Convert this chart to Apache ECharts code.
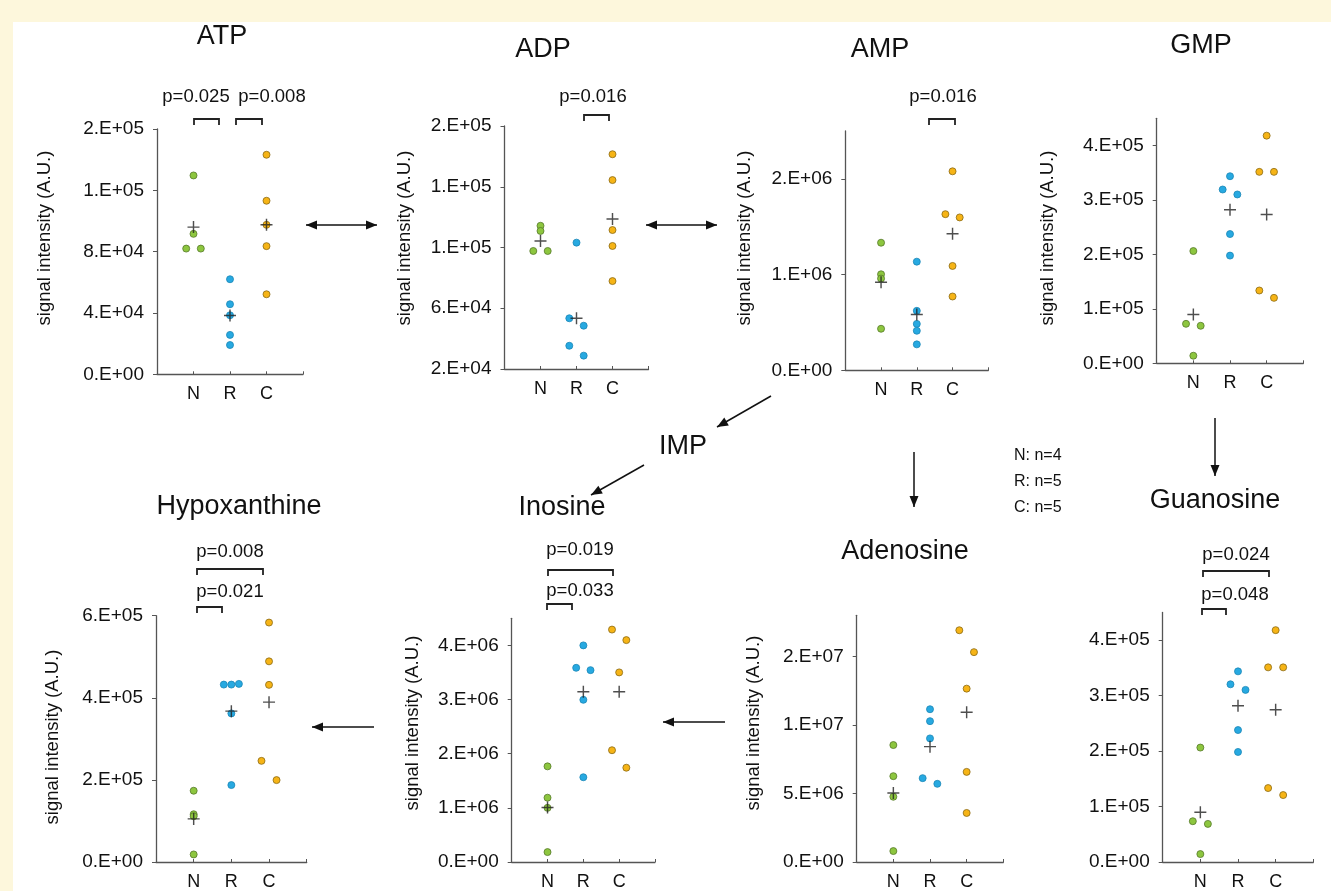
<!DOCTYPE html>
<html>
<head>
<meta charset="utf-8">
<script src="https://cdn.jsdelivr.net/npm/echarts@6/dist/echarts.min.js"></script>
<style>
  html, body { margin: 0; padding: 0; background: #fff; }
  #chart { width: 1331px; height: 891px; }
</style>
</head>
<body>
<div id="chart"></div>
<script>
// groups on the x axis
const groups = ['N', 'R', 'C'];
const groupX = [1, 2, 3];

// ATP
const atpN = [129700, 91600, 82000, 82000];
const atpR = [62000, 45700, 38500, 25700, 19100];
const atpC = [143200, 113200, 97500, 83600, 52200];
const atpMean = [96000, 38300, 97500];
const atpJitter = [[0, 0, -0.2, 0.2], [0, 0, 0, 0, 0], [0, 0, 0, 0, 0]];
const atpRange = [0, 160000];
const atpTicks = [0, 40000, 80000, 120000, 160000];
const atpTickLabels = ['0.E+00', '4.E+04', '8.E+04', '1.E+05', '2.E+05'];

// ADP
const adpN = [114300, 110900, 97700, 97700];
const adpR = [103200, 53400, 48500, 35300, 28800];
const adpC = [161400, 144400, 111500, 101000, 77900];
const adpMean = [104300, 53400, 118800];
const adpJitter = [[0, 0, -0.2, 0.2], [0, -0.2, 0.2, -0.2, 0.2], [0, 0, 0, 0, 0]];
const adpRange = [20000, 180000];
const adpTicks = [20000, 60000, 100000, 140000, 180000];
const adpTickLabels = ['2.E+04', '6.E+04', '1.E+05', '1.E+05', '2.E+05'];

// AMP
const ampN = [1333000, 1003000, 958000, 434000];
const ampR = [1135000, 621000, 485000, 413000, 271000];
const ampC = [2079000, 1631000, 1597000, 1090000, 771000];
const ampMean = [920000, 583000, 1427000];
const ampJitter = [[0, 0, 0, 0], [0, 0, 0, 0, 0], [0, -0.2, 0.2, 0, 0]];
const ampRange = [0, 2500000];
const ampTicks = [0, 1000000, 2000000];
const ampTickLabels = ['0.E+00', '1.E+06', '2.E+06'];

// GMP
const gmpN = [206200, 72500, 68900, 13900];
const gmpR = [343600, 319200, 310100, 237400, 197800];
const gmpC = [418100, 351600, 351600, 133700, 120200];
const gmpMean = [89700, 282000, 273400];
const gmpJitter = [[0, -0.2, 0.2, 0], [0, -0.2, 0.2, 0, 0], [0, -0.2, 0.2, -0.2, 0.2]];
const gmpRange = [0, 450000];
const gmpTicks = [0, 100000, 200000, 300000, 400000];
const gmpTickLabels = ['0.E+00', '1.E+05', '2.E+05', '3.E+05', '4.E+05'];

// Hypoxanthine
const hypN = [173600, 116300, 111700, 18400];
const hypR = [432200, 432200, 433900, 362000, 187400];
const hypC = [583300, 488800, 431500, 246400, 199500];
const hypMean = [105000, 367500, 389400];
const hypJitter = [[0, 0, 0, 0], [-0.2, 0, 0.2, 0, 0], [0, 0, 0, -0.2, 0.2]];
const hypRange = [0, 600000];
const hypTicks = [0, 200000, 400000, 600000];
const hypTickLabels = ['0.E+00', '2.E+05', '4.E+05', '6.E+05'];

// Inosine
const inoN = [1766000, 1187000, 1000000, 183000];
const inoR = [4000000, 3586000, 3543000, 2995000, 1565000];
const inoC = [4292000, 4097000, 3501000, 2064000, 1741000];
const inoMean = [1005000, 3142000, 3142000];
const inoJitter = [[0, 0, 0, 0], [0, -0.2, 0.2, 0, 0], [-0.2, 0.2, 0, -0.2, 0.2]];
const inoRange = [0, 4500000];
const inoTicks = [0, 1000000, 2000000, 3000000, 4000000];
const inoTickLabels = ['0.E+00', '1.E+06', '2.E+06', '3.E+06', '4.E+06'];

// Adenosine
const adoN = [8534000, 6263000, 4761000, 798000];
const adoR = [11147000, 10276000, 9020000, 6118000, 5704000];
const adoC = [16909000, 15312000, 12649000, 6575000, 3578000];
const adoMean = [5029000, 8418000, 10929000];
const adoJitter = [[0, 0, 0, 0], [0, 0, 0, -0.2, 0.2], [-0.2, 0.2, 0, 0, 0]];
const adoRange = [0, 18000000];
const adoTicks = [0, 5000000, 10000000, 15000000];
const adoTickLabels = ['0.E+00', '5.E+06', '1.E+07', '2.E+07'];

// Guanosine
const guoN = [206300, 73500, 68700, 14300];
const guoR = [343700, 320400, 310300, 237900, 198400];
const guoC = [418000, 350900, 350900, 133300, 120700];
const guoMean = [89700, 281600, 274400];
const guoJitter = [[0, -0.2, 0.2, 0], [0, -0.2, 0.2, 0, 0], [0, -0.2, 0.2, -0.2, 0.2]];
const guoRange = [0, 450000];
const guoTicks = [0, 100000, 200000, 300000, 400000];
const guoTickLabels = ['0.E+00', '1.E+05', '2.E+05', '3.E+05', '4.E+05'];

const panels = [
  { title: 'ATP', data: [atpN, atpR, atpC], mean: atpMean, jitter: atpJitter, range: atpRange, ticks: atpTicks, labels: atpTickLabels },
  { title: 'ADP', data: [adpN, adpR, adpC], mean: adpMean, jitter: adpJitter, range: adpRange, ticks: adpTicks, labels: adpTickLabels },
  { title: 'AMP', data: [ampN, ampR, ampC], mean: ampMean, jitter: ampJitter, range: ampRange, ticks: ampTicks, labels: ampTickLabels },
  { title: 'GMP', data: [gmpN, gmpR, gmpC], mean: gmpMean, jitter: gmpJitter, range: gmpRange, ticks: gmpTicks, labels: gmpTickLabels },
  { title: 'Hypoxanthine', data: [hypN, hypR, hypC], mean: hypMean, jitter: hypJitter, range: hypRange, ticks: hypTicks, labels: hypTickLabels },
  { title: 'Inosine', data: [inoN, inoR, inoC], mean: inoMean, jitter: inoJitter, range: inoRange, ticks: inoTicks, labels: inoTickLabels },
  { title: 'Adenosine', data: [adoN, adoR, adoC], mean: adoMean, jitter: adoJitter, range: adoRange, ticks: adoTicks, labels: adoTickLabels },
  { title: 'Guanosine', data: [guoN, guoR, guoC], mean: guoMean, jitter: guoJitter, range: guoRange, ticks: guoTicks, labels: guoTickLabels }
];

// grid box [left, top, width, height], title centre, y name centre (null = none)
const layout = [
  { grid: [157, 129, 146, 245.3], title: [222, 37], yName: [45, 238] },
  { grid: [504.5, 126, 144, 243], title: [543, 50], yName: [405, 238] },
  { grid: [845.3, 131, 143, 239.3], title: [880, 50], yName: [745, 238] },
  { grid: [1156.7, 118.3, 146.6, 245], title: [1201, 46], yName: [1048, 238] },
  { grid: [156, 615.7, 150.7, 247.6], title: [239, 507], yName: [53, 737] },
  { grid: [511.7, 618.3, 143.3, 245.7], title: [562, 508], yName: [413, 723] },
  { grid: [856.7, 615.3, 146.6, 248], title: [905, 552], yName: [754, 723] },
  { grid: [1162.7, 612.4, 150.6, 250.9], title: [1215, 501], yName: null }
];

// p values: [text, cx, cy]; brackets: [x1, x2, yTop, yEnd]
const pLabels = [
  ['p=0.025', 196, 97], ['p=0.008', 272, 97],
  ['p=0.016', 593, 97], ['p=0.016', 943, 97],
  ['p=0.008', 230, 552], ['p=0.021', 230, 592],
  ['p=0.019', 580, 550], ['p=0.033', 580, 591],
  ['p=0.024', 1236, 555], ['p=0.048', 1235, 595]
];
const brackets = [
  [194, 219, 119, 125], [236, 262, 119, 125],
  [584, 609, 115, 121], [929, 955, 119, 125],
  [197, 263, 569, 575], [197, 222, 607, 613],
  [548, 613, 570, 576], [547, 572, 604, 610],
  [1203, 1269, 571, 577], [1202, 1226, 609, 615]
];
// arrows: [x1, y1, x2, y2, double]
const arrows = [
  [306, 225, 377, 225, true],
  [646, 225, 717, 225, true],
  [771, 396, 717, 427, false],
  [644, 465, 591, 495, false],
  [914, 452, 914, 507, false],
  [725, 722, 663, 722, false],
  [374, 727, 312, 727, false],
  [1215, 418, 1215, 476, false]
];

const FONT = '"Liberation Sans", Arial, Helvetica, sans-serif';
const INK = '#111';
const AXIS = '#555';
const dotColors = ['#8dc63f', '#27a9e1', '#f6b416'];
const dotBorders = ['#56782a', '#1a86b6', '#8a6a14'];
const plus = 'path://M4.4,0H5.6V4.4H10V5.6H5.6V10H4.4V5.6H0V4.4H4.4Z';

const grids = [], xAxes = [], yAxes = [], series = [];

panels.forEach((p, i) => {
  const g = layout[i].grid;
  grids.push({ left: g[0], top: g[1], width: g[2], height: g[3] });
  xAxes.push({
    gridIndex: i, type: 'value', min: 0, max: 4,
    axisLine: { onZero: false, lineStyle: { color: AXIS, width: 1.3 } },
    axisTick: { customValues: [1, 2, 3, 4], inside: true, length: 3, lineStyle: { color: AXIS } },
    axisLabel: {
      customValues: groupX, margin: 11, fontSize: 18, color: INK, fontFamily: FONT,
      formatter: v => groups[Math.round(v) - 1]
    },
    splitLine: { show: false }
  });
  yAxes.push({
    gridIndex: i, type: 'value', min: p.range[0], max: p.range[1],
    axisLine: { show: true, onZero: false, lineStyle: { color: AXIS, width: 1.3 } },
    axisTick: { show: true, customValues: p.ticks, length: 4, lineStyle: { color: AXIS } },
    axisLabel: {
      customValues: p.ticks, margin: 13, fontSize: 19, color: INK, fontFamily: FONT,
      formatter: v => {
        const k = p.ticks.findIndex(t => Math.abs(t - v) <= Math.abs(t) * 1e-6 + 1e-9);
        return k < 0 ? '' : p.labels[k];
      }
    },
    splitLine: { show: false }
  });
  p.data.forEach((vals, k) => {
    series.push({
      type: 'scatter', name: groups[k], xAxisIndex: i, yAxisIndex: i,
      symbolSize: 7,
      itemStyle: { color: dotColors[k], borderColor: dotBorders[k], borderWidth: 0.8, opacity: 1 },
      data: vals.map((v, j) => [groupX[k] + p.jitter[k][j], v]),
      z: 3
    });
  });
  series.push({
    type: 'scatter', name: 'mean', xAxisIndex: i, yAxisIndex: i,
    symbol: plus, symbolSize: 12,
    itemStyle: { color: '#222' },
    data: p.mean.map((v, k) => [groupX[k], v]),
    z: 5
  });
});

function text(str, x, y, size, align, extra) {
  return Object.assign({
    type: 'text', x: x, y: y,
    style: {
      text: str, fill: INK, font: size + 'px ' + FONT,
      align: align, verticalAlign: 'middle',
      textAlign: align, textVerticalAlign: 'middle'
    }
  }, extra || {});
}

function head(x1, y1, x2, y2) {
  const a = Math.atan2(y2 - y1, x2 - x1), L = 11, W = 4.5;
  const bx = x2 - L * Math.cos(a), by = y2 - L * Math.sin(a);
  return {
    type: 'polygon',
    shape: { points: [[x2, y2], [bx + W * Math.sin(a), by - W * Math.cos(a)], [bx - W * Math.sin(a), by + W * Math.cos(a)]] },
    style: { fill: '#111' }
  };
}

const elements = [
  { type: 'rect', shape: { x: 0, y: 0, width: 1331, height: 22 }, style: { fill: '#fdf7dc' } },
  { type: 'rect', shape: { x: 0, y: 0, width: 13, height: 891 }, style: { fill: '#fdf7dc' } }
];

panels.forEach((p, i) => {
  const L = layout[i];
  elements.push(text(p.title, L.title[0], L.title[1], 27, 'center'));
  if (L.yName) {
    elements.push(text('signal intensity (A.U.)', L.yName[0], L.yName[1], 18.5, 'center', { rotation: Math.PI / 2 }));
  }
});

pLabels.forEach(d => elements.push(text(d[0], d[1], d[2], 18.5, 'center')));

brackets.forEach(b => elements.push({
  type: 'polyline',
  shape: { points: [[b[0], b[3]], [b[0], b[2]], [b[1], b[2]], [b[1], b[3]]] },
  style: { stroke: '#222', lineWidth: 1.8, fill: null }
}));

arrows.forEach(a => {
  elements.push({
    type: 'line', shape: { x1: a[0], y1: a[1], x2: a[2], y2: a[3] },
    style: { stroke: '#111', lineWidth: 1.5 }
  });
  elements.push(head(a[0], a[1], a[2], a[3]));
  if (a[4]) elements.push(head(a[2], a[3], a[0], a[1]));
});

elements.push(text('IMP', 683, 447, 27, 'center'));
elements.push(text('N: n=4', 1014, 456, 16, 'left'));
elements.push(text('R: n=5', 1014, 482, 16, 'left'));
elements.push(text('C: n=5', 1014, 508, 16, 'left'));

const chart = echarts.init(document.getElementById('chart'));
chart.setOption({
  backgroundColor: '#fff',
  animation: false,
  textStyle: { fontFamily: FONT },
  grid: grids,
  xAxis: xAxes,
  yAxis: yAxes,
  series: series,
  graphic: { elements: elements }
});
</script>
</body>
</html>
